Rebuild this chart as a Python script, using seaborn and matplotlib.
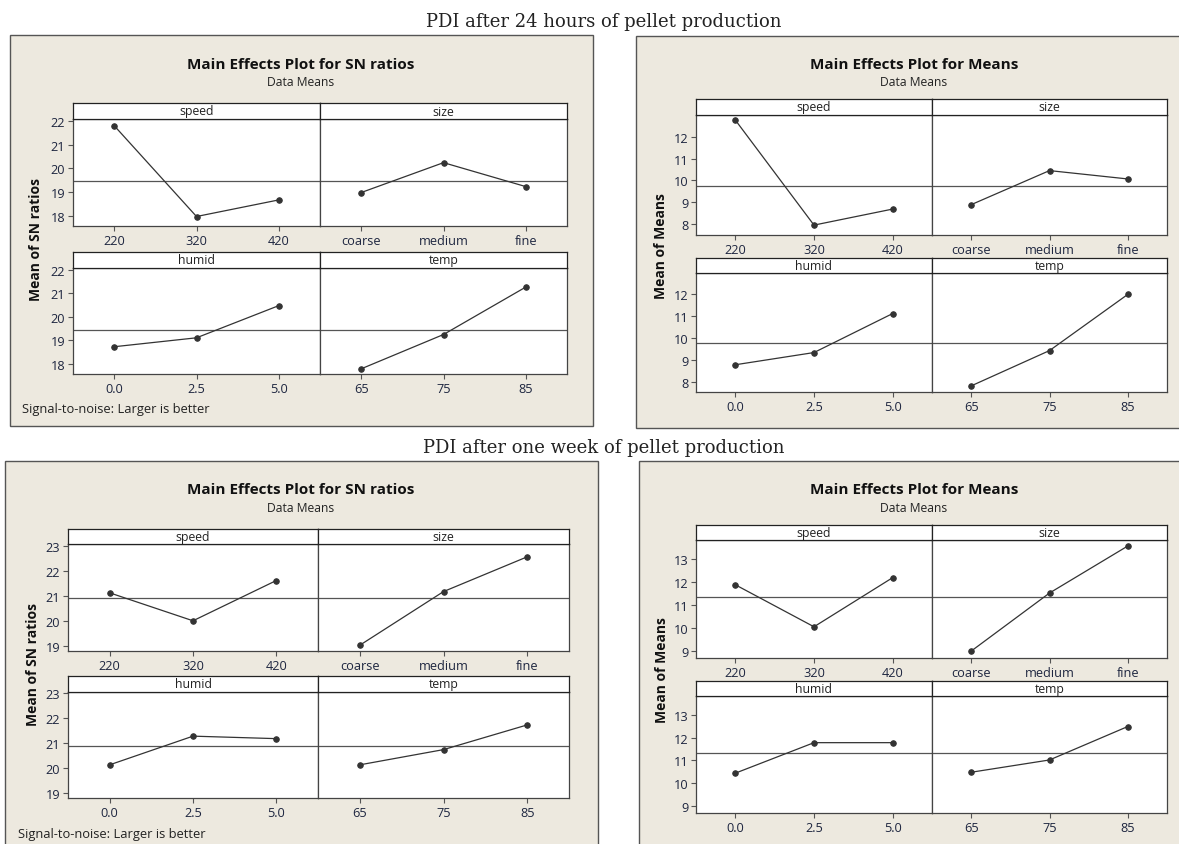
import numpy as np
import matplotlib
matplotlib.use('Agg')
import matplotlib.pyplot as plt
import seaborn as sns
from matplotlib.patches import Rectangle
from matplotlib.ticker import MultipleLocator, FormatStrFormatter

sns.set_theme(style='white')
plt.rcParams['font.family'] = ['Open Sans', 'DejaVu Sans']

# factors and their levels
factors = ['speed', 'size', 'humid', 'temp']
speed_levels = ['220', '320', '420']
size_levels = ['coarse', 'medium', 'fine']
humid_levels = ['0.0', '2.5', '5.0']
temp_levels = ['65', '75', '85']
levels = [speed_levels, size_levels, humid_levels, temp_levels]

# main effects, one list per factor (speed, size, humid, temp)
sn_24h = [[21.80, 17.97, 18.67], [18.98, 20.24, 19.23],
          [18.73, 19.11, 20.48], [17.79, 19.25, 21.27]]
means_24h = [[12.75, 7.97, 8.70], [8.90, 10.45, 10.07],
             [8.77, 9.33, 11.12], [7.80, 9.42, 12.00]]
sn_week = [[21.12, 20.01, 21.61], [19.04, 21.17, 22.55],
           [20.14, 21.29, 21.19], [20.14, 20.75, 21.74]]
means_week = [[11.88, 10.05, 12.19], [8.99, 11.52, 13.57],
              [10.44, 11.78, 11.78], [10.48, 11.02, 12.49]]
grand_means = [19.46, 9.77, 20.90, 11.33]

W, H = 1179, 845
fig = plt.figure(figsize=(W / 100, H / 100), dpi=100, facecolor='white')


def fbox(x0, y0, x1, y1):
    # pixel box (top-left origin) -> figure fraction rect
    return [x0 / W, 1 - y1 / H, (x1 - x0) / W, (y1 - y0) / H]


BG = '#EDE9DF'
LINE = '#333333'
TICK = '#1e2640'
EDGE = '#444444'

panels = [
    dict(box=(10, 36, 593, 427), cx=301, title='Main Effects Plot for SN ratios',
         ylabel='Mean of SN ratios', ylab_x=36, cols=(73, 320, 567),
         rows=((104, 120, 227), (253, 269, 375)), ylim=(17.57, 22.08), title_y=65,
         note=(22, 410), data=sn_24h, mean=grand_means[0]),
    dict(box=(636, 37, 1192, 429), cx=914, title='Main Effects Plot for Means',
         ylabel='Mean of Means', ylab_x=661, cols=(696, 932, 1167),
         rows=((100, 116, 236), (259, 274, 393)), ylim=(7.52, 12.98), title_y=65,
         note=None, data=means_24h, mean=grand_means[1]),
    dict(box=(5, 462, 598, 850), cx=301, title='Main Effects Plot for SN ratios',
         ylabel='Mean of SN ratios', ylab_x=33, cols=(68, 318, 569),
         rows=((530, 545, 652), (677, 693, 799)), ylim=(18.81, 23.06), title_y=490,
         note=(18, 835), data=sn_week, mean=grand_means[2]),
    dict(box=(639, 462, 1192, 850), cx=914, title='Main Effects Plot for Means',
         ylabel='Mean of Means', ylab_x=662, cols=(696, 932, 1167),
         rows=((526, 541, 659), (682, 697, 814)), ylim=(8.69, 13.83), title_y=490,
         note=None, data=means_week, mean=grand_means[3]),
]

fig.text(604 / W, 1 - 22 / H, 'PDI after 24 hours of pellet production',
         ha='center', va='center', family='DejaVu Serif', fontsize=13, color='#222')
fig.text(604 / W, 1 - 448 / H, 'PDI after one week of pellet production',
         ha='center', va='center', family='DejaVu Serif', fontsize=13, color='#222')

for p in panels:
    x0, y0, x1, y1 = p['box']
    fig.add_artist(Rectangle((x0 / W, 1 - y1 / H), (x1 - x0) / W, (y1 - y0) / H,
                             transform=fig.transFigure, facecolor=BG,
                             edgecolor='#555555', linewidth=1.0, zorder=0))
    fig.text(p['cx'] / W, 1 - p['title_y'] / H, p['title'], ha='center', va='center',
             fontsize=11, fontweight='bold', color='#111')
    fig.text(p['cx'] / W, 1 - (p['title_y'] + 18) / H, 'Data Means', ha='center',
             va='center', fontsize=8.7, color='#222')
    top = p['rows'][0][0]
    bot = p['rows'][1][2]
    fig.text(p['ylab_x'] / W, 1 - (top + bot) / 2 / H, p['ylabel'], rotation=90,
             ha='center', va='center', fontsize=10, fontweight='bold', color='#111')
    if p['note']:
        fig.text(p['note'][0] / W, 1 - p['note'][1] / H,
                 'Signal-to-noise: Larger is better', ha='left', va='center',
                 fontsize=9.3, color='#222')

    for k, name in enumerate(factors):
        r, c = divmod(k, 2)
        s_top, a_top, a_bot = p['rows'][r]
        c0, c1 = p['cols'][c], p['cols'][c + 1]
        ax = fig.add_axes(fbox(c0, a_top, c1, a_bot))
        ax.set_facecolor('white')
        ax.axhline(p['mean'], color='#555555', linewidth=0.9, zorder=1)
        sns.pointplot(x=levels[k], y=p['data'][k], ax=ax, color=LINE,
                      markersize=4, linewidth=0.9, errorbar=None)
        ax.set_xlim(-0.5, 2.5)
        ax.set_ylim(*p['ylim'])
        ax.set_xlabel('')
        ax.set_ylabel('')
        for sp in ax.spines.values():
            sp.set_color(EDGE)
            sp.set_linewidth(0.9)
        ax.tick_params(axis='both', direction='out', length=3.5, width=0.8,
                       color='#555555', labelcolor=TICK, labelsize=9.2, pad=2)
        ax.tick_params(axis='x', bottom=True)
        if c == 0:
            ax.yaxis.set_major_locator(MultipleLocator(1))
            ax.yaxis.set_major_formatter(FormatStrFormatter('%d'))
            ax.tick_params(axis='y', left=True)
        else:
            ax.set_yticks([])

        strip = fig.add_axes(fbox(c0, s_top, c1, a_top))
        strip.set_facecolor('white')
        strip.set_xticks([])
        strip.set_yticks([])
        for sp in strip.spines.values():
            sp.set_color('#222222')
            sp.set_linewidth(0.9)
        strip.text(0.5, 0.5, name, ha='center', va='center', fontsize=8.8,
                   color='#222', transform=strip.transAxes)

fig.savefig('out.png', dpi=100, facecolor='white')
